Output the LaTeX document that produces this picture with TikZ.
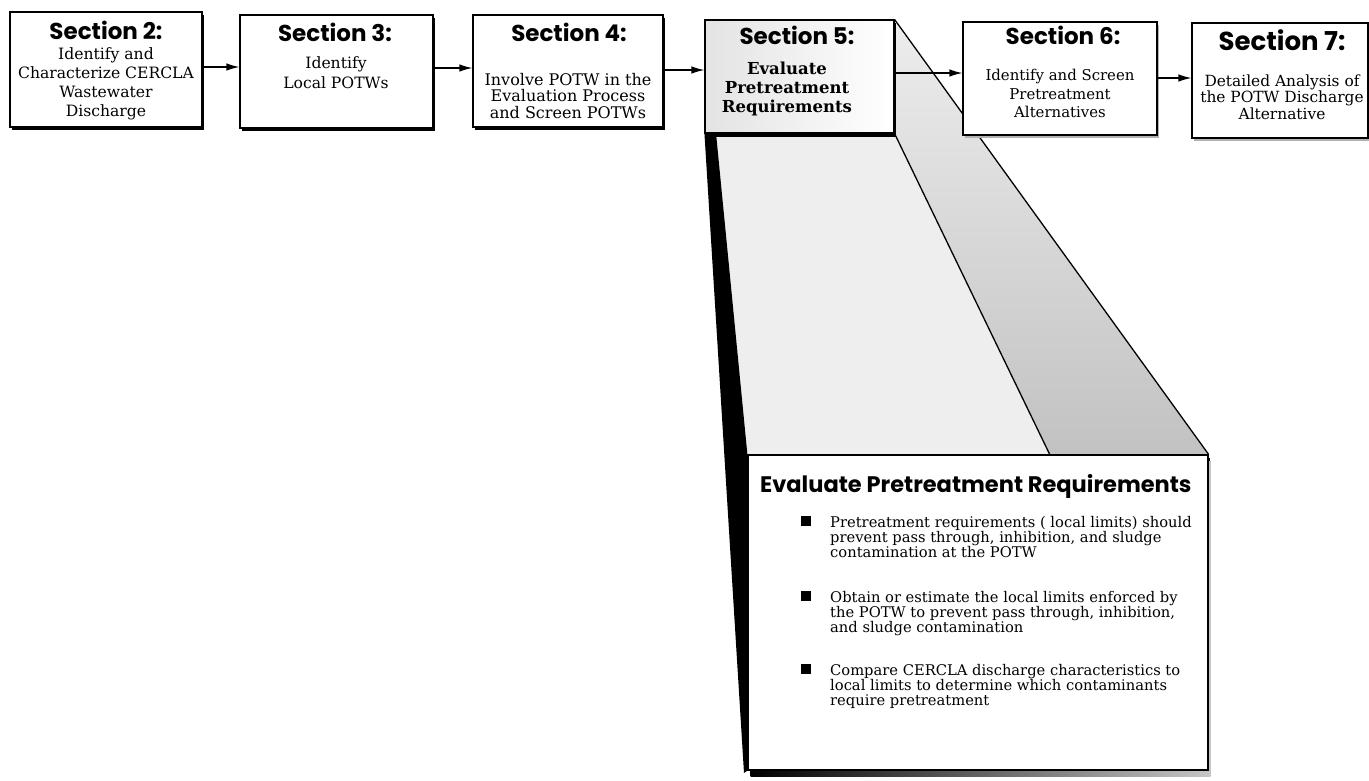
\documentclass[tikz,border=0pt]{standalone}
\usepackage{fontspec}
\usetikzlibrary{arrows.meta,shadows}
\newfontfamily\headfont{Poppins}
\newfontfamily\bodyfont{DejaVu Serif}
\pgfdeclarelayer{back}
\pgfsetlayers{back,main}

\begin{document}
\begin{tikzpicture}[x=1pt,y=-1pt,
  secbox/.style={draw=black, line width=1.1pt, fill=white, inner sep=0pt,
    drop shadow={shadow xshift=1.5pt, shadow yshift=-3pt, fill=black, opacity=1}},
  heading/.style={font=\headfont\bfseries\fontsize{23}{25}\selectfont, inner sep=0pt},
  boxtext/.style={font=\bodyfont\fontsize{15}{18}\selectfont, align=center, inner sep=0pt},
  flow/.style={line width=1.3pt, -{Latex[length=13pt,width=7.5pt]}},
  edgeline/.style={line width=1.3pt},
  bullettext/.style={font=\bodyfont\fontsize{14.7}{15}\selectfont, align=left,
    anchor=north west, inner sep=0pt},
  bulletmark/.style={fill=black, minimum size=9.5pt, inner sep=0pt}]

\useasboundingbox (0,0) rectangle (1369,780);

% the six section boxes
\node[secbox, minimum width=192pt, minimum height=115pt] (b2) at (106,69.5) {};
\node[secbox, minimum width=193pt, minimum height=113pt] (b3) at (336.5,71.5) {};
\node[secbox, minimum width=190pt, minimum height=112pt] (b4) at (568,71) {};
\node[secbox, minimum width=189pt, minimum height=113pt, left color=gray!22, right color=white,
      drop shadow={shadow xshift=1.5pt, shadow yshift=-4pt, fill=black, opacity=1}] (b5) at (799.5,76.5) {};
\node[secbox, minimum width=194pt, minimum height=113pt,
      drop shadow={shadow xshift=1.5pt, shadow yshift=-3pt, fill=gray!60, opacity=1}] (b6) at (1060,78.5) {};
\node[secbox, minimum width=176pt, minimum height=115pt,
      drop shadow={shadow xshift=1.5pt, shadow yshift=-3pt, fill=gray!60, opacity=1}] (b7) at (1280,80.5) {};

% enlarged view of section 5
\node[secbox, line width=1.2pt, minimum width=460pt, minimum height=315pt,
      drop shadow={shadow xshift=2.5pt, shadow yshift=-6pt, left color=black, right color=gray!45, opacity=1}] (bb) at (978,612.5) {};

\coordinate (mid) at (1050,455);
\coordinate (bandtop) at (716,133);
\coordinate (bandfoot) at (744,773);

% projection faces between the small box and its enlargement
\begin{pgfonlayer}{back}
  \fill[gray!13] (bandtop) -- (b5.south east) -- (mid) -- (bb.north west) -- cycle;
  \shade[top color=gray!14, bottom color=gray!48]
    (b5.north east) -- (bb.north east) -- (mid) -- (b5.south east) -- cycle;
  \fill[black] (b5.south west) -- (bandtop) -- (bb.north west) -- (bb.south west) -- (bandfoot) -- cycle;
  \draw[edgeline] (b5.north east) -- (bb.north east);
  \draw[edgeline] (b5.south east) -- (mid);
\end{pgfonlayer}

% headings
\node[heading] (h2) at (106,30) {Section 2:};
\node[heading] (h3) at (335,32) {Section 3:};
\node[heading] (h4) at (569,32) {Section 4:};
\node[heading] (h5) at (797,35) {Section 5:};
\node[heading] (h6) at (1063,35) {Section 6:};
\node[heading, font=\headfont\bfseries\fontsize{26}{28}\selectfont] (h7) at (1282,40) {Section 7:};

% box texts
\node[boxtext, font=\bodyfont\fontsize{15.6}{19}\selectfont] (t2) at (106,84)
  {Identify and\\Characterize CERCLA\\Wastewater\\Discharge};
\node[boxtext, font=\bodyfont\fontsize{15.6}{20}\selectfont] (t3) at (336,73) {Identify\\Local POTWs};
\node[boxtext, font=\bodyfont\fontsize{16}{16.5}\selectfont] (t4) at (568,96)
  {Involve POTW in the\\Evaluation Process\\and Screen POTWs};
\node[boxtext, font=\bodyfont\bfseries\fontsize{16.5}{19}\selectfont] (t5) at (787,89)
  {Evaluate\\Pretreatment\\Requirements};
\node[boxtext, font=\bodyfont\fontsize{14.9}{18.5}\selectfont] (t6) at (1060,93.5)
  {Identify and Screen\\Pretreatment\\Alternatives};
\node[boxtext, font=\bodyfont\fontsize{15.4}{16.5}\selectfont] (t7) at (1282,97)
  {Detailed Analysis of\\the POTW Discharge\\Alternative};

% flow arrows
\draw[flow] (b2.east |- 0,67) -- (b3.west |- 0,67);
\draw[flow] (b3.east |- 0,68) -- (b4.west |- 0,68);
\draw[flow] (b4.east |- 0,70) -- (b5.west |- 0,70);
\draw[flow] (b5.east |- 0,73) -- (b6.west |- 0,73);
\draw[flow] (b6.east |- 0,78) -- (b7.west |- 0,78);

% contents of the enlarged box
\node[heading, font=\headfont\bfseries\fontsize{22.5}{24}\selectfont, anchor=base west] (title) at (760,492)
  {Evaluate Pretreatment Requirements};
\node[bulletmark] (m1) at (806,521) {};
\node[bulletmark] (m2) at (806,596) {};
\node[bulletmark] (m3) at (806,669) {};
\node[bullettext] (p1) at (830,516)
  {Pretreatment requirements ( local limits) should\\prevent pass through, inhibition, and sludge\\contamination at the POTW};
\node[bullettext] (p2) at (830,591)
  {Obtain or estimate the local limits enforced by\\the POTW to prevent pass through, inhibition,\\and sludge contamination};
\node[bullettext] (p3) at (830,664)
  {Compare CERCLA discharge characteristics to\\local limits to determine which contaminants\\require pretreatment};

\end{tikzpicture}
\end{document}
